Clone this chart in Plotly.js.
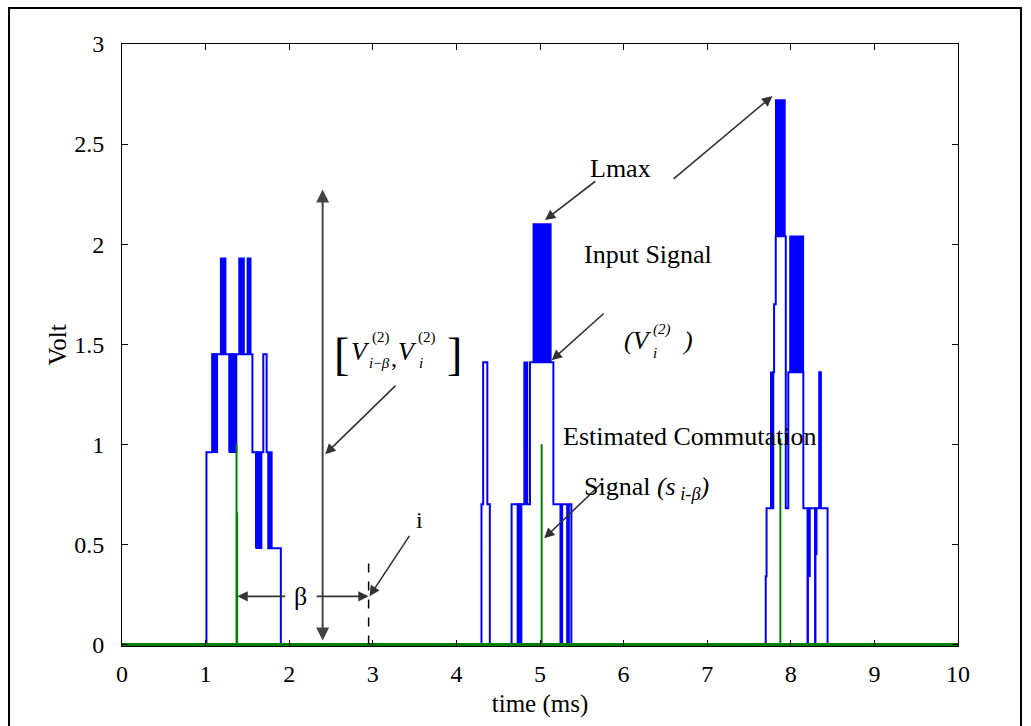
<!DOCTYPE html>
<html><head><meta charset="utf-8">
<script src="https://cdn.plot.ly/plotly-3.0.1.min.js"></script>
<style>
html,body{margin:0;padding:0;background:#fff;}
#wrap{position:relative;width:1031px;height:726px;overflow:hidden;}
#chart{position:absolute;left:0;top:0;width:1031px;height:726px;}
#frame{position:absolute;left:8px;top:7px;width:1010px;height:740px;border:2px solid #000;border-bottom:none;pointer-events:none;}
</style></head><body>
<div id="wrap"><div id="chart"></div><div id="frame"></div></div>
<script>
// ---- data ----
const xTickVals = [0,1,2,3,4,5,6,7,8,9,10];
const xTickText = ['0','1','2','3','4','5','6','7','8','9','10'];
const yTickVals = [0,0.5,1,1.5,2,2.5,3];
const yTickText = ['0','0.5','1','1.5','2','2.5','3'];

// input signal V_i^(2): step levels (time ms, volt)
const blueX = [0, 1.01, 1.08, 1.56, 1.69, 1.73, 1.75, 1.77, 1.79, 1.90,
               4.30, 4.32, 4.37, 4.40, 4.66, 4.88, 5.16, 5.245, 5.265, 5.325, 5.345, 5.375,
               7.70, 7.71, 7.79, 7.80, 7.82, 7.94, 7.97, 8.15, 8.20, 8.205, 8.29, 8.295, 8.34, 8.36, 8.44, 10];
const blueY = [0, 0.96, 1.45, 0.96, 1.45, 0.96, 0.48, 0.96, 0.48, 0,
               0.70, 1.41, 0.70, 0, 0.70, 1.41, 0.70, 0, 0.70, 0, 0.70, 0,
               0.34, 0.68, 1.36, 1.70, 2.04, 0.68, 1.36, 0.68, 0, 0.68, 0, 0.68, 1.36, 0.68, 0, 0];

// fast switching zones of the input signal (start, end, low level, high level)
const bandStart = [1.08, 1.18, 1.28, 1.40, 1.50, 1.60, 4.73, 4.81, 4.92, 7.76, 7.82, 7.99, 8.205, 8.295];
const bandEnd   = [1.14, 1.24, 1.37, 1.46, 1.54, 1.67, 4.78, 4.85, 5.13, 7.79, 7.93, 8.15, 8.23, 8.31];
const bandLow   = [0.96, 1.45, 0.96, 1.45, 1.45, 0.48, 0.00, 0.70, 1.41, 0.68, 2.04, 1.36, 0.34, 0.45];
const bandHigh  = [1.45, 1.93, 1.45, 1.93, 1.93, 0.96, 0.70, 1.41, 2.10, 1.36, 2.72, 2.04, 0.68, 0.68];

// estimated commutation signal s_{i-beta}
const greenBaseX = [0, 10];
const greenBaseY = [0, 0];
const greenSpikeX = [1.37, 1.377, 5.02, 7.875];
const greenSpikeY = [1.00, 0.66, 1.00, 1.03];

// markers used by annotations
const vArrowX = 2.40;
const iPos = 2.95;

// ---- traces ----
const BLUE = '#0000ff', GREEN = '#008000';
const traces = [];
for (let k = 0; k < bandStart.length; k++) {
  traces.push({
    x: [bandStart[k], bandEnd[k], bandEnd[k], bandStart[k], bandStart[k]],
    y: [bandLow[k], bandLow[k], bandHigh[k], bandHigh[k], bandLow[k]],
    mode: 'lines', fill: 'toself', fillcolor: BLUE,
    line: {color: BLUE, width: 1.5}, hoverinfo: 'skip', showlegend: false
  });
}
traces.push({x: blueX, y: blueY, mode: 'lines', line: {color: BLUE, width: 2, shape: 'hv'}, showlegend: false});
const gx = [], gy = [];
greenSpikeX.forEach((v, k) => { gx.push(v, v, null); gy.push(0, greenSpikeY[k], null); });
traces.push({x: gx, y: gy, mode: 'lines', line: {color: GREEN, width: 2}, showlegend: false});
traces.push({x: greenBaseX, y: greenBaseY, mode: 'lines', line: {color: GREEN, width: 3}, showlegend: false});

// ---- annotations ----
const SERIF = 'Liberation Serif, Times New Roman, serif';
function txt(x, y, text, size, extra) {
  return Object.assign({x, y, xref: 'x', yref: 'y', text, showarrow: false,
    font: {family: SERIF, size: size, color: '#000'}}, extra || {});
}
function arr(ax, ay, x, y, extra) {
  return Object.assign({x, y, ax, ay, xref: 'x', yref: 'y', axref: 'x', ayref: 'y',
    text: '', showarrow: true, arrowhead: 2, arrowsize: 1.3, arrowwidth: 1.6,
    arrowcolor: '#333', standoff: 0, startstandoff: 0}, extra || {});
}
const ann = [
  arr(vArrowX, 2.28, vArrowX, 0.02, {arrowside: 'end+start', arrowwidth: 2, arrowcolor: '#444'}),
  arr(3.29, 1.30, vArrowX + 0.03, 0.95),
  arr(1.97, 0.24, 1.38, 0.24),
  arr(2.31, 0.24, iPos, 0.24),
  arr(3.45, 0.55, iPos + 0.01, 0.24),
  arr(5.68, 2.32, 5.06, 2.12),
  arr(6.58, 2.32, 7.78, 2.74),
  arr(5.78, 1.66, 5.14, 1.42),
  arr(5.75, 0.81, 5.05, 0.53),
  txt(2.14, 0.24, 'β', 26),
  txt(3.56, 0.62, 'i', 24),
  // [V_{i-β}^{(2)}, V_i^{(2)}]
  txt(2.62, 1.45, '[', 46),
  txt(2.85, 1.465, '<i>V</i>', 26),
  txt(3.10, 1.535, '(2)', 15),
  txt(3.08, 1.405, '<i>i</i>−<i>β</i>', 15),
  txt(3.25, 1.43, ',', 24),
  txt(3.42, 1.465, '<i>V</i>', 26),
  txt(3.65, 1.535, '(2)', 15),
  txt(3.58, 1.405, '<i>i</i>', 15),
  txt(3.98, 1.45, ']', 46),
  txt(5.96, 2.38, 'Lmax', 26),
  txt(6.29, 1.95, 'Input Signal', 26),
  // (V_i^(2))
  txt(6.17, 1.52, '<i>(V</i>', 26),
  txt(6.46, 1.575, '<i>(2)</i>', 15),
  txt(6.38, 1.455, '<i>i</i>', 15),
  txt(6.76, 1.52, '<i>)</i>', 26),
  txt(6.79, 1.04, 'Estimated Commutation', 26),
  txt(6.27, 0.78, 'Signal <i>(s</i><sub><i> i-β</i></sub><i>)</i>', 26)
];

const layout = {
  width: 1031, height: 726,
  margin: {l: 122, r: 73, t: 44, b: 80, pad: 0},
  paper_bgcolor: '#fff', plot_bgcolor: '#fff',
  font: {family: SERIF, color: '#000'},
  xaxis: {
    range: [0, 10], tickvals: xTickVals, ticktext: xTickText,
    ticks: 'inside', ticklen: 6, tickcolor: '#000', tickwidth: 1,
    showline: true, linecolor: '#000', linewidth: 1, mirror: 'ticks',
    showgrid: false, zeroline: false, tickfont: {family: SERIF, size: 24},
    ticklabelstandoff: 6,
    title: {text: 'time (ms)', font: {family: SERIF, size: 25}, standoff: 8}
  },
  yaxis: {
    range: [-0.008, 3], tickvals: yTickVals, ticktext: yTickText,
    ticks: 'inside', ticklen: 6, tickcolor: '#000', tickwidth: 1,
    showline: true, linecolor: '#000', linewidth: 1, mirror: 'ticks',
    showgrid: false, zeroline: false, tickfont: {family: SERIF, size: 24},
    ticklabelstandoff: 12,
    title: {text: 'Volt', font: {family: SERIF, size: 25}, standoff: 0}
  },
  shapes: [
    {type: 'line', xref: 'x', yref: 'y', x0: iPos, x1: iPos, y0: 0, y1: 0.42,
     line: {color: '#000', width: 1.5, dash: 'dash'}}
  ],
  annotations: ann,
  showlegend: false
};
Plotly.newPlot('chart', traces, layout, {staticPlot: true, displayModeBar: false});
</script>
</body></html>
